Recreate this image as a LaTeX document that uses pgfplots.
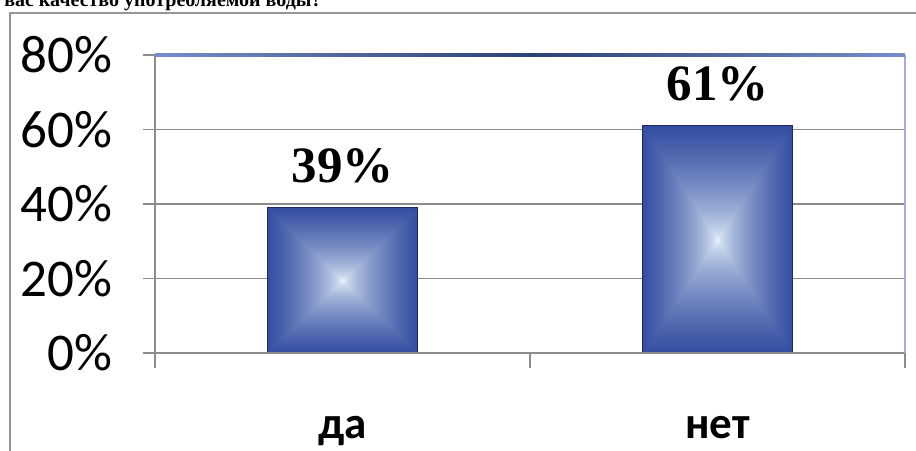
\documentclass[border=0pt]{standalone}
\usepackage{graphicx}
\usepackage{pgfplots}
\pgfplotsset{compat=1.18}
\usepackage{fontspec}
\setmainfont{Liberation Serif}
\newfontfamily\carlito{Carlito}
\definecolor{gridgray}{RGB}{140,140,140}
\definecolor{framegray}{RGB}{150,150,150}
\definecolor{topblue}{RGB}{45,65,115}
\definecolor{topblueL}{RGB}{120,140,200}
\definecolor{rightblue}{RGB}{165,170,230}
\definecolor{barline}{RGB}{30,40,95}
\pgfdeclarefunctionalshading{boxshade}{\pgfpoint{-50bp}{-50bp}}{\pgfpoint{50bp}{50bp}}{}{%
  abs exch abs 2 copy lt {exch} if pop 25 div 1 2 copy gt {exch} if pop 0.6 exp
  dup -0.74 mul 0.94 add exch
  dup -0.68 mul 0.98 add exch
  -0.37 mul 1 add
}
\pgfplotsset{barsty/.style={ybar, bar width=75pt, bar shift=0pt, draw=barline, line width=0.6pt, shade, shading=boxshade,
  point meta=explicit symbolic, nodes near coords,
  nodes near coords style={font=\bfseries\fontsize{25.5}{28}\selectfont, anchor=base, inner sep=0pt, yshift=12.5pt, text=black}}}
\begin{document}
\begin{tikzpicture}[x=0.5pt,y=0.5pt]
\useasboundingbox (0,0) rectangle (916,450);
\draw[framegray, line width=1pt] (10,-60) -- (10,437) -- (960,437);
\node[anchor=base east, font=\bfseries\fontsize{10}{12}\selectfont, inner sep=0pt] at (322,443) {Устраивает ли вас качество употребляемой воды?};
\begin{axis}[
  at={(77.5pt,48.5pt)}, anchor=south west,
  scale only axis, width=375pt, height=149pt,
  xmin=0.5, xmax=2.5, ymin=0, ymax=80,
  ytick={0,20,...,80},
  yticklabel={\pgfmathprintnumber[assume math mode=true]{\tick}\%},
  xtick={1,2}, xticklabels={да,нет},
  minor xtick={0.5,1.5,2.5},
  xtick pos=left, ytick pos=left,
  tick align=outside,
  major tick length=6pt, minor tick length=7.5pt,
  major x tick style={draw=none},
  minor x tick style={gridgray, line width=0.8pt},
  y tick style={gridgray, line width=0.8pt},
  axis line style={draw=none},
  ymajorgrids, grid style={gridgray, line width=0.8pt},
  tick label style={font=\carlito\fontsize{26.5}{30}\selectfont},
  yticklabel style={anchor=east, inner sep=0pt, xshift=-15pt},
  x tick label style={font=\carlito\bfseries\fontsize{22.5}{26}\selectfont, anchor=base, inner sep=0pt, yshift=-36.5pt},
  clip=false,
]
\addplot[barsty] coordinates {(1,39) [39\%]};
\addplot[barsty] coordinates {(2,61) [61\%]};
\draw[gridgray, line width=1pt] (rel axis cs:0,0) -- (rel axis cs:0,1);
\draw[gridgray, line width=1pt] (rel axis cs:0,0) -- (rel axis cs:1,0);
\draw[rightblue, line width=1pt] (rel axis cs:1,0) -- (rel axis cs:1,1);
\shade[left color=topblueL, right color=topblueL, middle color=topblue] ([yshift=-0.7pt]rel axis cs:0,1) rectangle ([yshift=0.7pt]rel axis cs:1,1);
\end{axis}
\end{tikzpicture}
\end{document}
